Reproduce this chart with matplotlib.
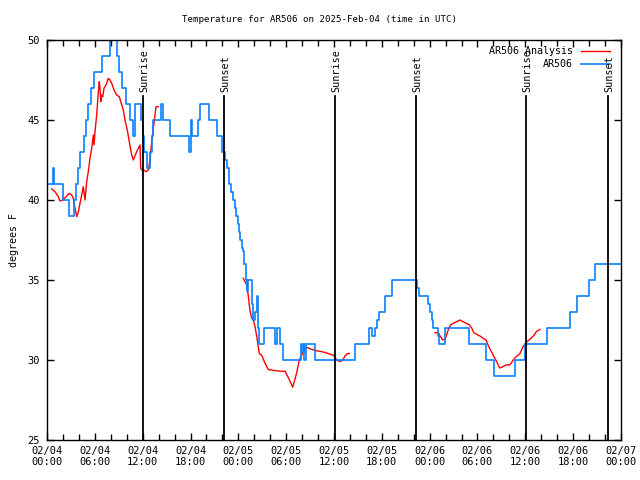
import matplotlib
matplotlib.use("Agg")
import matplotlib.pyplot as plt
from matplotlib.ticker import MultipleLocator

plt.rcParams['font.family'] = 'DejaVu Sans Mono'

# hours since 2025-02-04 00:00 UTC
obs_hours = [0.00, 0.69, 0.88, 2.01, 2.76, 3.39, 3.58, 3.83, 4.20, 4.64, 4.89, 5.14, 5.58, 5.90,
             6.90, 7.90, 8.78, 9.09, 9.47, 9.91, 10.35, 10.79, 11.10, 11.85, 11.98, 12.17, 12.54,
             12.98, 13.11, 13.30, 14.24, 14.55, 15.43, 17.81, 18.06, 18.25, 18.88, 19.13, 20.26,
             21.32, 21.95, 22.33, 22.52, 22.77, 23.08, 23.27, 23.58, 23.77, 23.92, 24.09, 24.21,
             24.42, 24.62, 24.75, 24.93, 25.05, 25.21, 25.68, 25.78, 26.09, 26.30, 26.51, 26.59,
             27.16, 28.66, 28.79, 29.23, 29.64, 31.82, 31.99, 32.18, 32.24, 32.49, 33.62, 38.64,
             40.45, 40.77, 41.14, 41.36, 41.61, 42.40, 43.24, 46.41, 46.70, 47.83, 48.04, 48.26,
             48.46, 49.08, 49.21, 49.96, 52.97, 55.07, 56.07, 58.74, 60.00, 62.76, 65.61, 66.52,
             68.03, 68.78, 72.00]
obs_temps = [41, 42, 41, 40, 39, 40, 41, 42, 43, 44, 45, 46, 47, 48,
             49, 51, 49, 48, 47, 46, 45, 44, 46, 45, 44, 43, 42,
             43, 44, 45, 46, 45, 44, 43, 45, 44, 45, 46, 45,
             44, 43, 42.5, 42, 41, 40.5, 40, 39.5, 39, 38.5, 38, 37.5,
             37, 36.8, 36, 35, 34.3, 35, 33.5, 32.5, 33, 34, 32, 31,
             32, 31, 32, 31, 30, 31, 30.5, 31, 30, 31, 30, 31,
             32, 31.5, 32, 32.5, 33, 34, 35, 34.5, 34, 33.5, 33, 32.5,
             32, 31.5, 31, 32, 31, 30, 29, 30, 31, 32, 33, 34,
             35, 36, 36]

ana1_hours = [0.59, 1.00, 1.42, 1.63, 1.97, 2.38, 2.80, 3.10, 3.30, 3.51, 3.73, 3.93, 4.14, 4.35,
              4.55, 4.77, 4.98, 5.18, 5.39, 5.61, 5.81, 5.90, 6.02, 6.23, 6.44, 6.56, 6.65, 6.74,
              6.86, 6.99, 7.15, 7.40, 7.69, 7.90, 8.12, 8.40, 8.74, 9.07, 9.37, 9.57, 9.78, 10.07,
              10.32, 10.62, 10.83, 11.16, 11.45, 11.67, 11.75, 11.88, 12.08, 12.42, 12.71, 12.92,
              13.13, 13.33, 13.55, 13.67, 13.96]
ana1_temps = [40.69, 40.52, 40.21, 39.94, 40.0, 40.2, 40.42, 40.31, 40.1, 39.48, 38.96, 39.27, 39.79, 40.31,
              40.83, 40.0, 41.15, 41.77, 42.6, 43.23, 44.06, 43.44, 44.27, 45.31, 46.77, 47.39, 46.98, 46.14,
              46.56, 46.46, 46.98, 47.19, 47.6, 47.5, 47.29, 46.88, 46.56, 46.46, 45.94, 45.63, 45.0, 44.38,
              43.65, 42.81, 42.5, 42.92, 43.23, 43.44, 41.98, 41.88, 41.88, 41.77, 41.88, 42.5,
              43.65, 44.48, 45.31, 45.83, 45.83]

ana2_hours = [24.62, 25.05, 25.25, 25.46, 25.68, 25.88, 26.09, 26.30, 26.63, 26.93, 27.35, 27.76,
              29.23, 29.86, 30.27, 30.82, 31.32, 31.65, 32.15, 32.58, 32.99, 33.62, 34.66, 35.91,
              36.34, 36.75, 37.09, 37.38, 37.67, 37.92]
ana2_temps = [35.1, 34.7, 34.0, 33.1, 32.6, 32.5, 32.1, 31.5, 30.4, 30.3, 29.8, 29.4,
              29.3, 29.3, 28.9, 28.3, 29.2, 30.0, 30.5, 30.8, 30.7, 30.6, 30.5, 30.3,
              30.0, 29.9, 30.0, 30.25, 30.4, 30.4]

ana3_hours = [48.67, 49.09, 49.30, 49.64, 49.93, 50.14, 50.34, 50.64, 50.97, 51.39, 51.81, 52.15,
              52.56, 52.97, 53.27, 53.56, 53.90, 54.31, 54.73, 55.07, 55.36, 55.66, 55.98, 56.39,
              56.79, 57.24, 57.67, 58.08, 58.49, 58.83, 59.33, 59.67, 60.09, 60.59, 61.00, 61.43,
              61.84]
ana3_temps = [31.7, 31.7, 31.5, 31.25, 31.3, 31.6, 31.9, 32.2, 32.3, 32.4, 32.5, 32.4,
              32.3, 32.2, 32.0, 31.7, 31.6, 31.5, 31.35, 31.25, 30.9, 30.6, 30.3, 29.9,
              29.5, 29.6, 29.7, 29.7, 30.0, 30.2, 30.4, 30.8, 31.1, 31.3, 31.5, 31.8,
              31.9]

event_hours = [12.05, 22.2, 36.1, 46.3, 60.1, 70.35]
event_names = ['Sunrise', 'Sunset', 'Sunrise', 'Sunset', 'Sunrise', 'Sunset']

tick_hours = list(range(0, 73, 6))
tick_labels = ['02/04\n00:00', '02/04\n06:00', '02/04\n12:00', '02/04\n18:00',
               '02/05\n00:00', '02/05\n06:00', '02/05\n12:00', '02/05\n18:00',
               '02/06\n00:00', '02/06\n06:00', '02/06\n12:00', '02/06\n18:00',
               '02/07\n00:00']

red = '#ff0000'
blue = '#0a80ff'

fig = plt.figure(figsize=(6.4, 4.8), dpi=100)
ax = fig.add_axes([47/640, 40/480, 574/640, 400/480])

for hrs, tmp in [(ana1_hours, ana1_temps), (ana2_hours, ana2_temps), (ana3_hours, ana3_temps)]:
    ax.plot(hrs, tmp, color=red, lw=1)
ax.plot(obs_hours, obs_temps, color=blue, lw=1.2, drawstyle='steps-post')

for h, name in zip(event_hours, event_names):
    ax.plot([h, h], [25, 46.5], color='black', lw=1.3)
    ax.text(h + 0.15, 46.75, name, rotation=90, ha='center', va='bottom', fontsize=7.3)

ax.set_xlim(0, 72)
ax.set_ylim(25, 50)
ax.set_xticks(tick_hours)
ax.set_xticklabels(tick_labels)
ax.xaxis.set_minor_locator(MultipleLocator(2))
ax.yaxis.set_major_locator(MultipleLocator(5))
ax.tick_params(which='both', direction='in', top=True, right=True, labelsize=7.5)
ax.tick_params(which='major', length=5, width=1)
ax.tick_params(which='minor', length=4, width=1)
ax.tick_params(axis='x', pad=4)
ax.tick_params(axis='y', pad=5)
for s in ax.spines.values():
    s.set_linewidth(1)

# legend, gnuplot style (text right aligned, sample on the right)
ax.text(0.916, 0.973, 'AR506 Analysis', transform=ax.transAxes, ha='right', va='center', fontsize=7.2)
ax.plot([0.930, 0.981], [0.973, 0.973], transform=ax.transAxes, color=red, lw=1)
ax.text(0.916, 0.940, 'AR506', transform=ax.transAxes, ha='right', va='center', fontsize=7.2)
ax.plot([0.930, 0.981], [0.940, 0.940], transform=ax.transAxes, color=blue, lw=1.2)

fig.text(0.5, 1 - 20/480, 'Temperature for AR506 on 2025-Feb-04 (time in UTC)',
         ha='center', va='center', fontsize=6.6)
fig.text(14/640, 0.5, 'degrees F', rotation=90, ha='center', va='center', fontsize=7.2)

fig.savefig('out.png', dpi=100)
